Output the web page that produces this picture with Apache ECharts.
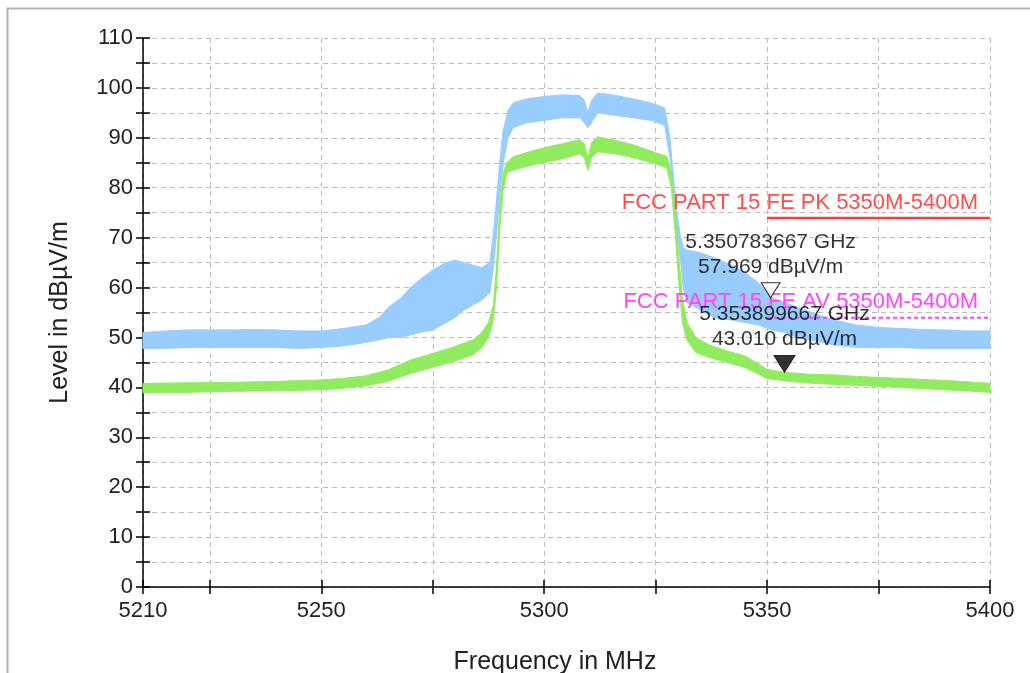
<!DOCTYPE html>
<html>
<head>
<meta charset="utf-8">
<script src="https://cdn.jsdelivr.net/npm/echarts@6/dist/echarts.min.js"></script>
<style>
html,body{margin:0;padding:0;background:#fff;}
#chart{width:1030px;height:673px;}
</style>
</head>
<body>
<div id="chart"></div>
<script>
// ---- data ----
const xTicks = [5210, 5225, 5250, 5275, 5300, 5325, 5350, 5375, 5400];
const xLabels = [5210, 5250, 5300, 5350, 5400];
const yLabels = [0, 10, 20, 30, 40, 50, 60, 70, 80, 90, 100, 110];

// Peak trace (blue) envelope
const pkFreq = [5210,5215,5220,5225,5230,5235,5240,5245,5250,5255,
  5260,5263,5265,5268,5270,5272,5275,5278,5280,5282,
  5284,5286,5287.8,5288.6,5289.3,5290,5290.8,5291.9,5293,5296,
  5300,5304,5308,5309,5309.8,5310.6,5312,5316,5320,5324,
  5327,5328.2,5329,5329.7,5330.5,5331.2,5332,5335,5338,5342,
  5345,5348,5351,5354,5357,5360,5365,5370,5375,5380,
  5385,5390,5395,5400];
const pkLow = [47.8,47.8,48,48,48,48,48,47.8,48,48.3,
  49,49.5,50,50,50.5,51,51.5,53,54,55.5,
  56.5,57.5,59,64,71,78,85,90,92,93,
  93.5,94,94,93,92,93,95,94.5,94,93.5,
  92.5,86,79,72,66,60,57,55.5,54,53.5,
  53,52.5,51.5,51,50,49.5,48.5,48,48,48,
  47.8,47.8,47.8,47.8];
const pkHigh = [51,51.3,51.5,51.5,51.5,51.6,51.5,51.3,51.3,51.8,
  52.5,54,56,58,60,61.5,63.5,65,65.5,65,
  64.5,64,65,71,77.5,85,91.5,95.5,97,97.8,
  98.3,98.6,98.5,97.5,95,97.5,99,98.5,97.8,97,
  96,90,82,75.5,70.5,68,67.5,67,66,64.5,
  63,61,58,57,56,55,53.5,52.5,52,51.8,
  51.6,51.5,51.3,51.3];

// Average trace (green) envelope
const avFreq = [5210,5220,5230,5240,5250,5255,5260,5265,5270,5275,
  5280,5284,5286,5287.5,5288.6,5289.3,5290,5290.8,5291.6,5293,
  5297,5300,5305,5308,5309,5309.8,5310.6,5312,5316,5320,
  5325,5327.5,5328.5,5329.3,5330.2,5331,5332,5334,5337,5341,
  5345,5350,5354,5360,5365,5370,5380,5390,5400];
const avLow = [38.9,39,39.2,39.3,39.5,39.8,40.3,41.2,42.8,44,
  45.3,46.5,48,50,53.5,60,71.5,79.5,83,83.5,
  84.5,85,86,86.8,86,83.5,86,87.2,86.8,86,
  84.8,84,80,72,61,53,49.5,47,46,45,
  44,41.8,41.3,40.8,40.6,40.4,40,39.5,39];
const avHigh = [40.8,40.9,41,41.2,41.5,41.8,42.3,43.5,45.5,46.8,
  48.2,49.5,51,53,56.5,64,76,83,85,86.2,
  87.3,88,89,89.6,88.8,86,89,90.2,89.5,88.6,
  87,86.3,83,76,66,58,53,50,48.5,47.3,
  46.3,43.6,43,42.6,42.5,42.2,41.8,41.4,40.8];

// Limit lines
const limitFreq = [5350, 5400];
const pkLimit = 74;
const avLimit = 54;
const pkLimitName = 'FCC PART 15 FE PK 5350M-5400M';
const avLimitName = 'FCC PART 15 FE AV 5350M-5400M';

// Markers
const markerFreqMHz = [5350.783667, 5353.899667];
const markerLevel = [57.969, 43.010];
const markerFreqText = ['5.350783667 GHz', '5.353899667 GHz'];
const markerLevelText = ['57.969 dBµV/m', '43.010 dBµV/m'];

// ---- chart ----
const FONT = 'Liberation Sans, Arial, sans-serif';

function bandSeries(name, fArr, loArr, hiArr, color, z) {
  return {
    type: 'custom',
    name: name,
    z: z,
    data: fArr.map((f, i) => [f, loArr[i], hiArr[i]]),
    encode: { x: 0, y: [1, 2] },
    renderItem: function (params, api) {
      if (params.dataIndex !== 0) return null;
      const pts = [];
      for (let i = 0; i < fArr.length; i++) pts.push(api.coord([fArr[i], hiArr[i]]));
      for (let i = fArr.length - 1; i >= 0; i--) pts.push(api.coord([fArr[i], loArr[i]]));
      return {
        type: 'polygon',
        shape: { points: pts },
        style: { fill: color, stroke: color, lineWidth: 1 }
      };
    }
  };
}

const chart = echarts.init(document.getElementById('chart'));
const tickStyle = { color: '#000', width: 1.5 };

const option = {
  animation: false,
  backgroundColor: '#fff',
  textStyle: { fontFamily: FONT },
  graphic: [{
    type: 'rect',
    shape: { x: 7.5, y: 8.5, width: 1100, height: 800 },
    style: { fill: 'none', stroke: '#b4b4b4', lineWidth: 2 },
    silent: true, z: -10
  }],
  grid: { left: 143, right: 40, top: 38, bottom: 86, outerBoundsMode: 'none', containLabel: false },
  xAxis: [{
    type: 'value', min: 5210, max: 5400,
    axisLine: { show: true, onZero: false, lineStyle: { color: '#000', width: 1.5 } },
    axisTick: { show: true, customValues: xTicks, length: 7, lineStyle: tickStyle },
    axisLabel: { customValues: xLabels, margin: 13, fontSize: 22, color: '#222', fontFamily: FONT,
      formatter: function (v) { return String(v); } },
    splitLine: { show: true, lineStyle: { color: '#bdbdbd', type: [5, 4], width: 1 } },
    name: 'Frequency in MHz', nameLocation: 'middle', nameGap: 63,
    nameTextStyle: { fontSize: 25, color: '#222', fontFamily: FONT, padding: [0, 23, 0, 0] }
  }, {
    type: 'value', min: 5210, max: 5400, position: 'bottom',
    axisLine: { show: false },
    axisTick: { show: true, inside: true, customValues: xTicks, length: 7, lineStyle: tickStyle },
    axisLabel: { show: false },
    splitLine: { show: false }
  }],
  yAxis: [{
    type: 'value', min: 0, max: 110, interval: 5,
    axisLine: { show: true, onZero: false, lineStyle: { color: '#000', width: 1.5 } },
    axisTick: { show: true, length: 7, lineStyle: tickStyle },
    axisLabel: { customValues: yLabels, margin: 10, fontSize: 22, color: '#222', fontFamily: FONT,
      formatter: function (v) { return String(v); } },
    splitLine: { show: true, lineStyle: { color: '#bdbdbd', type: [5, 4], width: 1 } },
    name: 'Level in dBµV/m', nameLocation: 'middle', nameGap: 70,
    nameTextStyle: { fontSize: 25, color: '#222', fontFamily: FONT }
  }, {
    type: 'value', min: 0, max: 110, interval: 5, position: 'left',
    axisLine: { show: false },
    axisTick: { show: true, inside: true, length: 7, lineStyle: tickStyle },
    axisLabel: { show: false },
    splitLine: { show: false }
  }],
  series: [
    bandSeries('PK', pkFreq, pkLow, pkHigh, '#99ccff', 2),
    bandSeries('AV', avFreq, avLow, avHigh, '#90ec5e', 3),
    {
      type: 'line', name: 'PK limit', z: 5,
      data: limitFreq.map(f => [f, pkLimit]),
      symbol: 'none',
      lineStyle: { color: '#ff3b3b', width: 2 },
      markLine: {
        silent: true, symbol: 'none', animation: false,
        lineStyle: { color: '#ff3b3b', width: 2, type: 'solid' },
        label: {
          show: true, position: 'insideEndTop', formatter: pkLimitName,
          color: '#ff4d4d', fontSize: 22, fontFamily: FONT, distance: [12, 4]
        },
        data: [[{ coord: [limitFreq[0], pkLimit] }, { coord: [limitFreq[1], pkLimit] }]]
      }
    },
    {
      type: 'line', name: 'AV limit', z: 5,
      data: limitFreq.map(f => [f, avLimit]),
      symbol: 'none',
      lineStyle: { color: '#ff44ff', width: 1.5, type: [4, 3] },
      markLine: {
        silent: true, symbol: 'none', animation: false,
        lineStyle: { color: '#ff44ff', width: 1.5, type: [4, 3] },
        label: {
          show: true, position: 'insideEndTop', formatter: avLimitName,
          color: '#ff44ff', fontSize: 22, fontFamily: FONT, distance: [12, 5]
        },
        data: [[{ coord: [limitFreq[0], avLimit] }, { coord: [limitFreq[1], avLimit] }]]
      }
    },
    {
      type: 'scatter', name: 'M1', z: 10,
      data: [[markerFreqMHz[0], markerLevel[0]]],
      symbol: 'path://M0,0 L20,0 L10,15 Z',
      symbolSize: [19, 15], symbolKeepAspect: false,
      symbolOffset: [0, '-50%'],
      itemStyle: { color: '#fff', borderColor: '#000', borderWidth: 1 },
      label: {
        show: true, position: 'top', distance: 3,
        formatter: markerFreqText[0] + '\n' + markerLevelText[0],
        color: '#000', fontSize: 21, lineHeight: 25, fontFamily: FONT, align: 'center'
      }
    },
    {
      type: 'scatter', name: 'M2', z: 10,
      data: [[markerFreqMHz[1], markerLevel[1]]],
      symbol: 'path://M0,0 L20,0 L10,16 Z',
      symbolSize: [21, 17], symbolKeepAspect: false,
      symbolOffset: [0, '-50%'],
      itemStyle: { color: '#000', borderColor: '#000', borderWidth: 1 },
      label: {
        show: true, position: 'top', distance: 3,
        formatter: markerFreqText[1] + '\n' + markerLevelText[1],
        color: '#000', fontSize: 21, lineHeight: 25, fontFamily: FONT, align: 'center'
      }
    }
  ]
};
chart.setOption(option);
</script>
</body>
</html>
